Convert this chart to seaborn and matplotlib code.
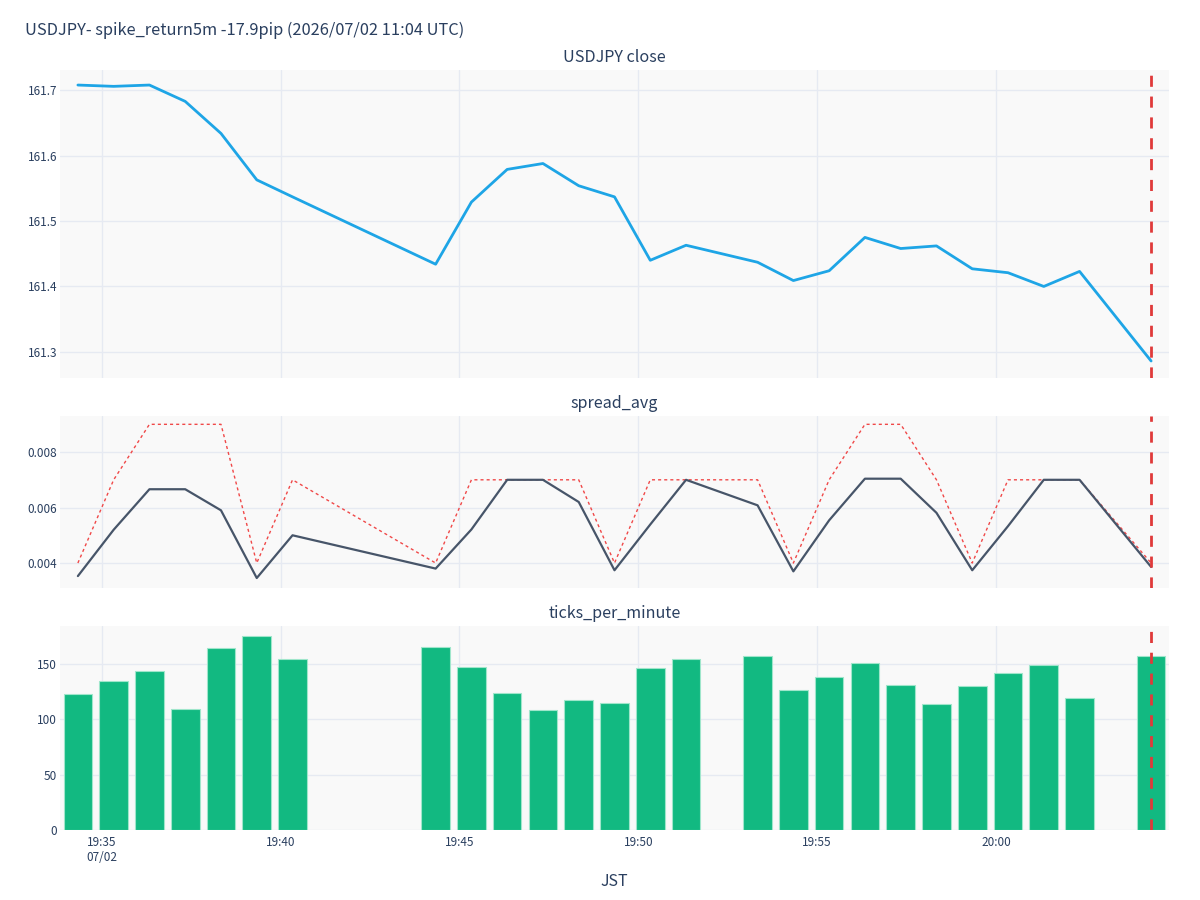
import matplotlib
matplotlib.use("Agg")
import matplotlib.pyplot as plt
import matplotlib.dates as mdates
import seaborn as sns
import pandas as pd
import numpy as np

# ---- data ----
times = ["19:34:20", "19:35:20", "19:36:20", "19:37:20", "19:38:20", "19:39:20", "19:40:20",
         "19:44:20", "19:45:20", "19:46:20", "19:47:20", "19:48:20", "19:49:20", "19:50:20", "19:51:20",
         "19:53:20", "19:54:20", "19:55:20", "19:56:20", "19:57:20", "19:58:20", "19:59:20", "20:00:20",
         "20:01:20", "20:02:20", "20:04:20"]
close = [161.708, 161.706, 161.708, 161.683, 161.634, 161.563, 161.537,
         161.434, 161.529, 161.579, 161.588, 161.554, 161.537, 161.440, 161.463,
         161.437, 161.409, 161.424, 161.475, 161.458, 161.462, 161.427, 161.421,
         161.400, 161.423, 161.286]
spread_avg = [0.00353, 0.00520, 0.00666, 0.00666, 0.00590, 0.00346, 0.00500,
              0.00380, 0.00521, 0.00700, 0.00700, 0.00620, 0.00374, 0.00539, 0.00700,
              0.00608, 0.00370, 0.00554, 0.00704, 0.00704, 0.00581, 0.00374, 0.00533,
              0.00700, 0.00700, 0.00386]
spread_max = [0.004, 0.007, 0.009, 0.009, 0.009, 0.004, 0.007,
              0.004, 0.007, 0.007, 0.007, 0.007, 0.004, 0.007, 0.007,
              0.007, 0.004, 0.007, 0.009, 0.009, 0.007, 0.004, 0.007,
              0.007, 0.007, 0.004]
ticks_per_minute = [123, 134, 143, 109, 164, 175, 154,
                    165, 147, 124, 108, 117, 115, 146, 154,
                    157, 126, 138, 151, 131, 114, 130, 142,
                    149, 119, 157]
event_time = "20:04:20"
xtick_times = ["19:35", "19:40", "19:45", "19:50", "19:55", "20:00"]
xtick_labels = ["19:35\n07/02", "19:40", "19:45", "19:50", "19:55", "20:00"]
date = "2026-07-02 "

title = "USDJPY- spike_return5m -17.9pip (2026/07/02 11:04 UTC)"
sub_titles = ["USDJPY close", "spread_avg", "ticks_per_minute"]

# ---- build ----
x = mdates.date2num(pd.to_datetime([date + t for t in times]))
df = pd.DataFrame({"x": x, "close": close, "spread_avg": spread_avg,
                   "spread_max": spread_max, "ticks": ticks_per_minute})
xe = mdates.date2num(pd.Timestamp(date + event_time))
xt = mdates.date2num(pd.to_datetime([date + t for t in xtick_times]))
minute = 1.0 / 1440.0

sns.set_theme(style="whitegrid")
plt.rcParams["font.family"] = ["Noto Sans CJK JP", "DejaVu Sans"]
text_color = "#2a3f5f"
grid_color = "#e6eaf2"
bg = "#f9f9f9"

fig = plt.figure(figsize=(12, 9), dpi=100)
L, R = 60 / 1200, 1169 / 1200
rows = [(70, 378), (416, 588), (626, 830)]
axes = []
for top, bot in rows:
    ax = fig.add_axes([L, 1 - bot / 900, R - L, (bot - top) / 900])
    axes.append(ax)
ax1, ax2, ax3 = axes

sns.lineplot(data=df, x="x", y="close", ax=ax1, color="#1ea5e6", linewidth=2)
sns.lineplot(data=df, x="x", y="spread_max", ax=ax2, color="#f04848",
             linewidth=1, linestyle=(0, (2.2, 2.2)))
sns.lineplot(data=df, x="x", y="spread_avg", ax=ax2, color="#475569", linewidth=1.6)
sns.barplot(data=df, x="x", y="ticks", ax=ax3, native_scale=True, width=0.8,
            color="#12b981", saturation=1, edgecolor="#9fe6cb", linewidth=0.8)

ylims = [(161.260, 161.731), (0.0031, 0.0093), (0, 184)]
yticks = [[161.3, 161.4, 161.5, 161.6, 161.7], [0.004, 0.006, 0.008], [0, 50, 100, 150]]
ylabels = [["161.3", "161.4", "161.5", "161.6", "161.7"], ["0.004", "0.006", "0.008"],
           ["0", "50", "100", "150"]]
for i, ax in enumerate(axes):
    ax.set_facecolor(bg)
    ax.set_xlim(x[0] - 0.5 * minute, x[-1] + 0.5 * minute)
    ax.set_ylim(*ylims[i])
    ax.set_yticks(yticks[i])
    ax.set_yticklabels(ylabels[i])
    ax.set_xticks(xt)
    ax.set_xticklabels(xtick_labels if i == 2 else [])
    ax.grid(True, color=grid_color, linewidth=1)
    ax.set_axisbelow(True)
    for s in ax.spines.values():
        s.set_visible(False)
    ax.tick_params(axis="y", length=0, labelsize=8.5, colors=text_color, pad=2)
    ax.tick_params(axis="x", length=0, labelsize=8.5, colors=text_color, pad=4)
    ax.set_xlabel("")
    ax.set_ylabel("")
    ax.axvline(xe, color="#e03a3a", linewidth=2, linestyle=(0, (4, 3.5)), zorder=5)
    ax.legend_ = None

fig.text(25 / 1200, 1 - 30 / 900, title, fontsize=11.8, color=text_color, ha="left", va="center")
cx = (L + R) / 2
for t, yy in zip(sub_titles, [57, 404, 613]):
    fig.text(cx, 1 - yy / 900, t, fontsize=11.6, color=text_color, ha="center", va="center")
fig.text(cx, 1 - 882 / 900, "JST", fontsize=11.5, color=text_color, ha="center", va="center")

fig.savefig("out.png", dpi=100)
